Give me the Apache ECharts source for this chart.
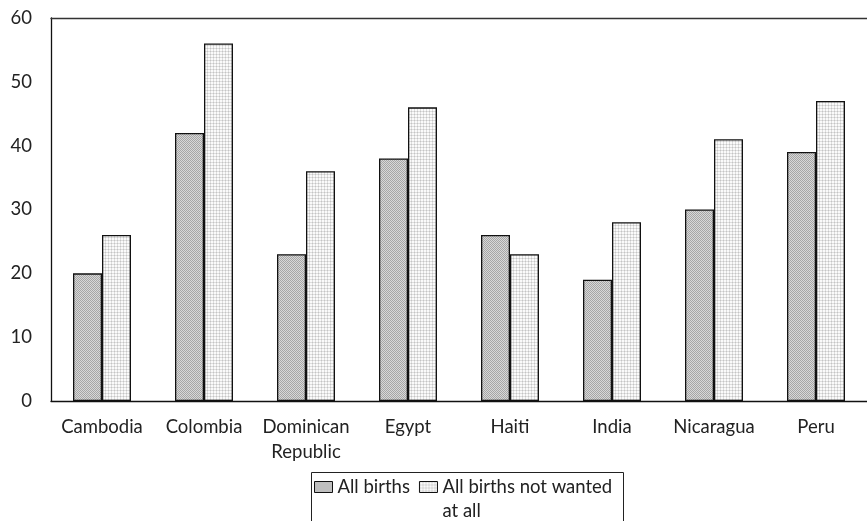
<!DOCTYPE html>
<html><head><meta charset="utf-8">
<script src="https://cdn.jsdelivr.net/npm/echarts@6/dist/echarts.min.js"></script>
<style>html,body{margin:0;padding:0;background:#fff}#c{width:867px;height:521px}</style>
</head><body><div id="c"></div>
<script>
var categories = ['Cambodia','Colombia','Dominican\nRepublic','Egypt','Haiti','India','Nicaragua','Peru'];
var allBirths = [20, 42, 23, 38, 26, 19, 30, 39];
var notWanted = [26, 56, 36, 46, 23, 28, 41, 47];
var seriesNames = ['All births', 'All births not wanted\nat all'];
var yTicks = {min: 0, max: 60, interval: 10};

function pattern(kind){
  var c = document.createElement('canvas');
  var g;
  if (kind === 'dark') {
    c.width = 2; c.height = 2;
    g = c.getContext('2d');
    g.fillStyle = '#d8d8d8'; g.fillRect(0,0,2,2);
    g.fillStyle = '#a6a6a6'; g.fillRect(0,0,1,1); g.fillRect(1,1,1,1);
  } else {
    c.width = 3; c.height = 3;
    g = c.getContext('2d');
    g.fillStyle = '#fafafa'; g.fillRect(0,0,3,3);
    g.fillStyle = '#dedede'; g.fillRect(0,0,3,1); g.fillRect(0,0,1,3);
    g.fillStyle = '#c4c4c4'; g.fillRect(0,0,1,1);
  }
  return {image: c, repeat: 'repeat'};
}

var font = 'Lato';
var fs = 18.5;
var chart = echarts.init(document.getElementById('c'), null, {renderer: 'canvas'});
chart.setOption({
  animation: false,
  textStyle: {fontFamily: font, color: '#222'},
  grid: {left: 51, right: 0, top: 18, bottom: 120, containLabel: false},
  graphic: [{
    type: 'rect', left: 309, top: 470, silent: true,
    shape: {width: 312, height: 70},
    style: {fill: 'none', stroke: '#222', lineWidth: 1}
  }],
  legend: {
    data: seriesNames,
    formatter: function (name) { return name === seriesNames[1] ? ' \n' + name : name; },
    left: 314, top: 451,
    padding: 0,
    itemGap: 9,
    icon: 'rect',
    itemWidth: 18, itemHeight: 11,
    itemStyle: {borderColor: '#111', borderWidth: 1},
    textStyle: {fontFamily: font, fontSize: fs, color: '#222', lineHeight: 24},
    selectedMode: false
  },
  xAxis: [{
    type: 'category', data: categories, position: 'bottom',
    axisLine: {lineStyle: {color: '#111', width: 1.3}},
    axisTick: {show: false},
    axisLabel: {interval: 0, fontFamily: font, fontSize: fs, color: '#222', margin: 14, lineHeight: 25}
  }, {
    type: 'category', data: categories, position: 'top',
    axisLine: {show: true, onZero: false, lineStyle: {color: '#333', width: 1.3}},
    axisTick: {show: false}, axisLabel: {show: false}
  }],
  yAxis: {
    type: 'value', min: yTicks.min, max: yTicks.max, interval: yTicks.interval,
    axisLine: {show: true, lineStyle: {color: '#111', width: 1.3}},
    axisTick: {show: false},
    splitLine: {show: false},
    axisLabel: {fontFamily: font, fontSize: fs, color: '#222', margin: 19}
  },
  series: [{
    name: seriesNames[0], type: 'bar', data: allBirths, barWidth: 29, barGap: '0%',
    itemStyle: {color: pattern('dark'), borderColor: '#111', borderWidth: 1.3}
  }, {
    name: seriesNames[1], type: 'bar', data: notWanted, barWidth: 29,
    itemStyle: {color: pattern('light'), borderColor: '#111', borderWidth: 1.3}
  }]
});
</script></body></html>
